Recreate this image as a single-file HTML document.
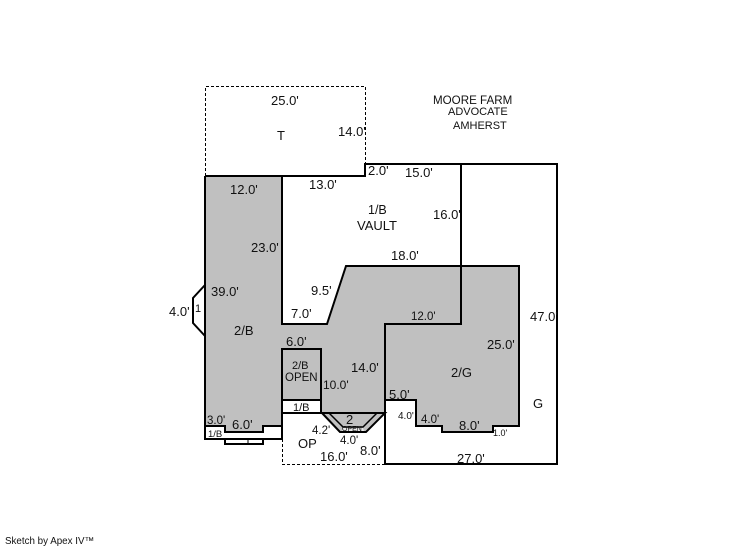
<!DOCTYPE html>
<html><head><meta charset="utf-8"><style>
html,body{margin:0;padding:0;background:#fff;width:746px;height:547px;overflow:hidden}
svg{display:block}
text{font-family:"Liberation Sans",sans-serif;font-size:13px;fill:#111}
.s{font-size:11px}
.xs{font-size:9.5px}
</style></head><body>
<svg width="746" height="547" viewBox="0 0 746 547" xmlns="http://www.w3.org/2000/svg">
<g fill="#c0c0c0" stroke="none">
<polygon points="205,176 282,176 282,324 327,324 346,266 519,266 519,426 493,426 493,432 442,432 442,426 416,426 416,400 385,400 385,413 205,413 205,426"/>
<polygon points="205,413 282,413 282,426 263,426 263,432 225,432 225,426 205,426"/>
<polygon points="321,413 385,413 366,432 340,432"/>
</g>
<rect x="282" y="400" width="39" height="13" fill="#fff"/>
<polygon points="343,428 363,428 364,431 342,431" fill="#e8e8e8"/>
<g fill="none" stroke="#000" stroke-width="2">
<polyline points="205,176 365,176 365,164 557,164 557,464 385,464 385,324 461,324 461,164"/>
<polyline points="282,176 282,324 327,324 346,266 519,266 519,426 493,426 493,432 442,432 442,426 416,426 416,400 385,400"/>
<polyline points="205,176 205,439 282,439 282,426 263,426 263,432 225,432 225,426 205,426"/>
<rect x="282" y="349" width="39" height="64"/>
<line x1="282" y1="400" x2="321" y2="400"/>
<line x1="282" y1="413" x2="385" y2="413"/>
<line x1="282" y1="413" x2="282" y2="439"/>
<polygon points="322,413 340,432 366,432 385,413" />
<polyline points="329,413 343,427 363,427 377,413" stroke-width="1.5"/>
<polyline points="225,439 225,444 263,444 263,439" />
<polyline points="205,285 193,298 193,323 205,336"/>
</g>
<line x1="248" y1="438" x2="248" y2="444" stroke="#000" stroke-width="1"/>
<g fill="none" stroke="#000" stroke-width="1" stroke-dasharray="3 2">
<polyline points="205.5,176 205.5,86.5 365.5,86.5 365.5,164"/>
<polyline points="282.5,414 282.5,464.5 385,464.5"/>
</g>
<text x="271" y="105">25.0'</text>
<text x="277" y="140">T</text>
<text x="338" y="136">14.0'</text>
<text x="433" y="104" class="s" style="font-size:11.6px">MOORE FARM</text>
<text x="448" y="115" class="s">ADVOCATE</text>
<text x="453" y="129" class="s">AMHERST</text>
<text x="230" y="194">12.0'</text>
<text x="309" y="189">13.0'</text>
<text x="368" y="175">2.0'</text>
<text x="405" y="177">15.0'</text>
<text x="368" y="214" style="font-size:12.5px">1/B</text>
<text x="357" y="230">VAULT</text>
<text x="433" y="219">16.0'</text>
<text x="251" y="252">23.0'</text>
<text x="391" y="260">18.0'</text>
<text x="311" y="295">9.5'</text>
<text x="211" y="296">39.0'</text>
<text x="169" y="316">4.0'</text>
<text x="195" y="312" class="s">1</text>
<text x="291" y="318">7.0'</text>
<text x="530" y="321">47.0'</text>
<text x="411" y="320" class="s" style="font-size:11.5px">12.0'</text>
<text x="234" y="335">2/B</text>
<text x="487" y="349">25.0'</text>
<text x="286" y="346">6.0'</text>
<text x="292" y="369" class="s">2/B</text>
<text x="285" y="381" class="s" style="font-size:11.5px">OPEN</text>
<text x="351" y="372">14.0'</text>
<text x="451" y="377">2/G</text>
<text x="323" y="389" class="s" style="font-size:12px">10.0'</text>
<text x="389" y="399">5.0'</text>
<text x="533" y="408">G</text>
<text x="293" y="411" class="s">1/B</text>
<text x="398" y="419" class="s" style="font-size:10px">4.0'</text>
<text x="421" y="423" class="s" style="font-size:11.5px">4.0'</text>
<text x="207" y="424" class="s" style="font-size:11.5px">3.0'</text>
<text x="232" y="429">6.0'</text>
<text x="346" y="424">2</text>
<text x="342" y="431" class="xs" style="font-size:7px">OPEN</text>
<text x="459" y="430">8.0'</text>
<text x="493" y="436" class="xs" style="font-size:9px">1.0'</text>
<text x="208" y="437" class="xs">1/B</text>
<text x="312" y="434" class="s" style="font-size:11.5px">4.2'</text>
<text x="340" y="444" class="s" style="font-size:11.5px">4.0'</text>
<text x="298" y="448">OP</text>
<text x="360" y="455">8.0'</text>
<text x="320" y="461">16.0'</text>
<text x="457" y="463">27.0'</text>
<text x="5" y="544" class="xs" style="font-size:9.8px">Sketch by Apex IV™</text>
</svg>
</body></html>
